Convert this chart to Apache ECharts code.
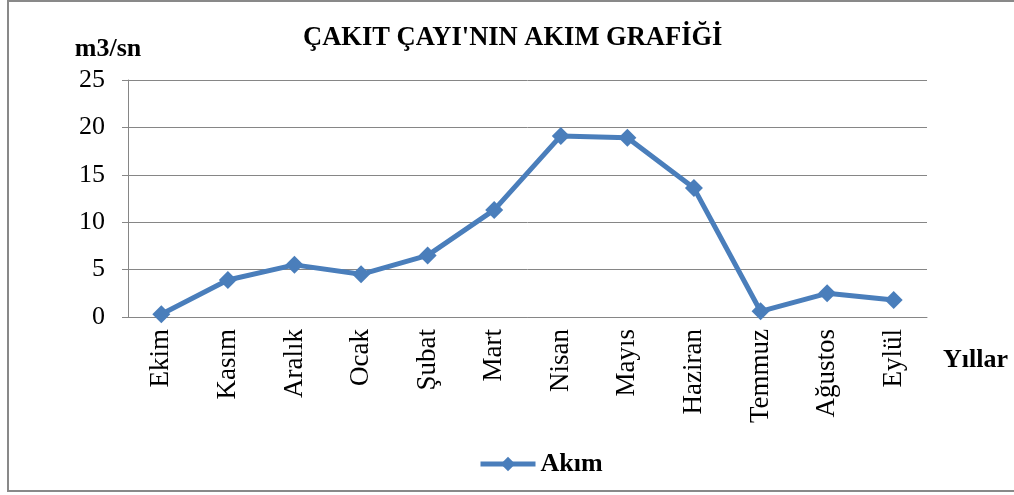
<!DOCTYPE html>
<html>
<head>
<meta charset="utf-8">
<script src="https://cdn.jsdelivr.net/npm/echarts@6/dist/echarts.min.js"></script>
<style>
  html, body { margin: 0; padding: 0; background: #fff; }
  #chart { width: 1014px; height: 495px; }
</style>
</head>
<body>
<div id="chart"></div>
<script>
// aylar ve akım değerleri (m3/sn)
var aylar = ['Ekim', 'Kasım', 'Aralık', 'Ocak', 'Şubat', 'Mart', 'Nisan', 'Mayıs', 'Haziran', 'Temmuz', 'Ağustos', 'Eylül'];
var akim = [0.3, 3.9, 5.5, 4.5, 6.5, 11.3, 19.1, 18.9, 13.6, 0.6, 2.5, 1.8];
var yMin = 0, yMax = 25, yStep = 5;

var chart = echarts.init(document.getElementById('chart'));
var serif = '"Liberation Serif", "Times New Roman", serif';

var option = {
    animation: false,
    textStyle: { fontFamily: serif },
    title: {
        text: "ÇAKIT ÇAYI'NIN AKIM GRAFİĞİ",
        left: 298,
        top: 20,
        textStyle: { fontFamily: serif, fontSize: 26.5, fontWeight: 'bold', color: '#000' }
    },
    legend: {
        left: 473,
        top: 446,
        itemWidth: 55,
        itemHeight: 18,
        itemGap: 4,
        lineStyle: { width: 5 },
        textStyle: { fontFamily: serif, fontSize: 26, fontWeight: 'bold', color: '#000' },
        data: ['Akım']
    },
    grid: { left: 128, right: 87, top: 80, bottom: 178 },
    xAxis: {
        type: 'category',
        data: aylar,
        boundaryGap: true,
        name: 'Yıllar',
        nameLocation: 'end',
        nameGap: 16,
        nameTextStyle: { fontFamily: serif, fontSize: 26, fontWeight: 'bold', color: '#000', verticalAlign: 'top', padding: [30, 0, 0, 0] },
        axisLine: { lineStyle: { color: '#868686', width: 1 } },
        axisTick: { alignWithLabel: false, length: 6, lineStyle: { color: '#868686' } },
        axisLabel: { rotate: 90, fontSize: 27, color: '#000', margin: 12, fontFamily: serif },
        splitLine: { show: false }
    },
    yAxis: {
        type: 'value',
        min: yMin,
        max: yMax,
        interval: yStep,
        name: 'm3/sn',
        nameLocation: 'end',
        nameGap: 18,
        nameTextStyle: { fontFamily: serif, fontSize: 26, fontWeight: 'bold', color: '#000', padding: [0, 40, 0, 0] },
        axisLine: { show: true, lineStyle: { color: '#868686', width: 1 } },
        axisTick: { show: true, length: 6, lineStyle: { color: '#868686' } },
        axisLabel: { fontSize: 26, color: '#000', margin: 23, fontFamily: serif },
        splitLine: { lineStyle: { color: '#868686', width: 1 } }
    },
    series: [{
        name: 'Akım',
        type: 'line',
        data: akim,
        symbol: 'diamond',
        symbolSize: 18,
        lineStyle: { color: '#4a7ebb', width: 5 },
        itemStyle: { color: '#4a7ebb' }
    }],
    graphic: [{
        type: 'rect',
        shape: { x: 8, y: 1, width: 1012, height: 490 },
        style: { fill: 'none', stroke: '#898989', lineWidth: 2 },
        silent: true
    }]
};

chart.setOption(option);
</script>
</body>
</html>
